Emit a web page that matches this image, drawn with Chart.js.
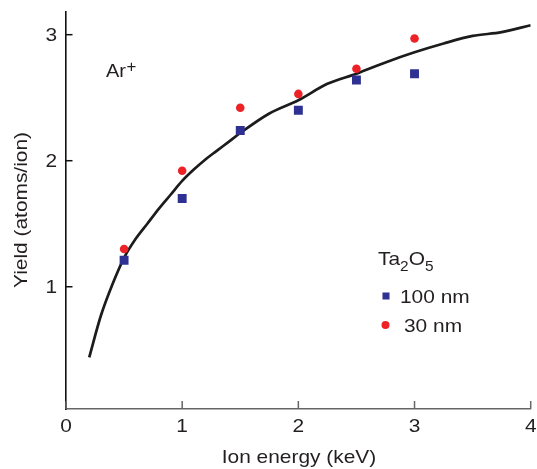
<!DOCTYPE html>
<html><head><meta charset="utf-8">
<script src="https://cdn.jsdelivr.net/npm/chart.js@4/dist/chart.umd.min.js"></script>
<style>html,body{margin:0;padding:0;background:#fff;}#wrap{width:537px;height:469px;}</style>
</head><body><div id="wrap"><canvas id="c" width="537" height="469"></canvas></div>
<script>
const xTicks = [0, 1, 2, 3, 4];
const yTicks = [1, 2, 3];
const energy100 = [0.5, 1, 1.5, 2, 2.5, 3];
const yield100 = [1.21, 1.70, 2.24, 2.40, 2.64, 2.69];
const energy30 = [0.5, 1, 1.5, 2, 2.5, 3];
const yield30 = [1.30, 1.92, 2.42, 2.53, 2.73, 2.97];
const curveX = [0.2, 0.3, 0.4, 0.5, 0.6, 0.7, 0.8, 0.9, 1.0, 1.1, 1.2, 1.3, 1.4, 1.5, 1.75, 2.0, 2.25, 2.5, 2.75, 3.0, 3.25, 3.5, 3.75, 4.0];
const curveY = [0.44, 0.77, 1.02, 1.23, 1.38, 1.50, 1.62, 1.73, 1.84, 1.93, 2.01, 2.08, 2.15, 2.22, 2.375, 2.48, 2.61, 2.69, 2.78, 2.86, 2.93, 2.99, 3.02, 3.075];
const xTitle = 'Ion energy (keV)';
const yTitle = 'Yield (atoms/ion)';
const seriesNames = ['100 nm', '30 nm'];

const FONT = '"Liberation Sans", Arial, Helvetica, sans-serif';
const TXT = '#231f20';
const BLUE = '#2e3192';
const RED = '#ec2227';
const SX = 1.1;

function txt(ctx, s, x, y, size, align, baseline, sx) {
  ctx.save();
  ctx.font = size + 'px ' + FONT;
  ctx.fillStyle = TXT;
  ctx.textAlign = align;
  ctx.textBaseline = baseline;
  ctx.translate(x, y);
  ctx.scale(sx || 1, 1);
  ctx.fillText(s, 0, 0);
  ctx.restore();
}
function w(ctx, s, size, sx) {
  ctx.save(); ctx.font = size + 'px ' + FONT;
  const m = ctx.measureText(s).width * (sx || 1);
  ctx.restore(); return m;
}

const decor = {
  id: 'decor',
  afterDraw(chart) {
    const ctx = chart.ctx;
    const xs = chart.scales.x, ys = chart.scales.y;
    const a = chart.chartArea;
    ctx.save();
    ctx.lineWidth = 1.5;
    ctx.strokeStyle = '#111';
    yTicks.forEach(v => {
      const p = ys.getPixelForValue(v);
      ctx.beginPath(); ctx.moveTo(a.left, p); ctx.lineTo(a.left + 6.5, p); ctx.stroke();
    });
    ctx.strokeStyle = '#666';
    xTicks.forEach(v => {
      const p = xs.getPixelForValue(v);
      ctx.beginPath(); ctx.moveTo(p, a.bottom); ctx.lineTo(p, a.bottom - 8); ctx.stroke();
    });
    ctx.restore();
    yTicks.forEach(v => txt(ctx, String(v), 57, ys.getPixelForValue(v) + 1, 19, 'right', 'middle', SX));
    xTicks.forEach(v => txt(ctx, String(v), xs.getPixelForValue(v), 432, 19, 'center', 'alphabetic', SX));
    txt(ctx, xTitle, 299, 463, 19, 'center', 'alphabetic', SX);
    ctx.save();
    ctx.translate(27, 210);
    ctx.rotate(-Math.PI / 2);
    txt(ctx, yTitle, 0, 0, 19, 'center', 'alphabetic', SX);
    ctx.restore();
    txt(ctx, 'Ar', 106, 77, 19, 'left', 'alphabetic', 1.05);
    txt(ctx, '+', 126.5, 72, 16, 'left', 'alphabetic', 1.05);
    let x = 378;
    const parts = [['Ta', 19, 265], ['2', 14, 270.5], ['O', 19, 265], ['5', 14, 270.5]];
    parts.forEach(([s, sz, by]) => { txt(ctx, s, x, by, sz, 'left', 'alphabetic', SX); x += w(ctx, s, sz, SX); });
    ctx.save();
    ctx.fillStyle = BLUE;
    ctx.fillRect(382.5, 292.5, 7, 7);
    ctx.fillStyle = RED;
    ctx.beginPath(); ctx.arc(385.5, 325, 4, 0, Math.PI * 2); ctx.fill();
    ctx.restore();
    txt(ctx, seriesNames[0], 400, 302.5, 19, 'left', 'alphabetic', SX);
    txt(ctx, seriesNames[1], 404, 331.5, 19, 'left', 'alphabetic', SX);
  }
};

new Chart(document.getElementById('c'), {
  type: 'scatter',
  data: {
    datasets: [
      {
        label: 'fit', type: 'line',
        data: curveX.map((v, i) => ({x: v, y: curveY[i]})),
        borderColor: '#1c1c1c', borderWidth: 2.7, pointRadius: 0, fill: false,
        cubicInterpolationMode: 'monotone', order: 3
      },
      {
        label: seriesNames[0],
        data: energy100.map((v, i) => ({x: v, y: yield100[i]})),
        pointStyle: 'rect', pointRadius: 6.3, backgroundColor: BLUE, borderWidth: 0, order: 2
      },
      {
        label: seriesNames[1],
        data: energy30.map((v, i) => ({x: v, y: yield30[i]})),
        pointStyle: 'circle', pointRadius: 4.3, backgroundColor: RED, borderWidth: 0, order: 1
      }
    ]
  },
  options: {
    responsive: false,
    animation: false,
    devicePixelRatio: 1,
    layout: {padding: {top: 12, right: 5, left: 0, bottom: 0}},
    plugins: {legend: {display: false}, tooltip: {enabled: false}},
    scales: {
      x: {
        type: 'linear', min: 0, max: 4,
        ticks: {display: false},
        grid: {display: true, drawOnChartArea: false, drawTicks: false},
        border: {display: true, color: '#666', width: 1.6},
        afterFit(s) { s.height = 60; }
      },
      y: {
        type: 'linear', min: 0.03, max: 3.18,
        ticks: {display: false},
        grid: {display: true, drawOnChartArea: false, drawTicks: false},
        border: {display: true, color: '#111', width: 1.6},
        afterFit(s) { s.width = 66; }
      }
    }
  },
  plugins: [decor]
});
</script>
</body></html>
